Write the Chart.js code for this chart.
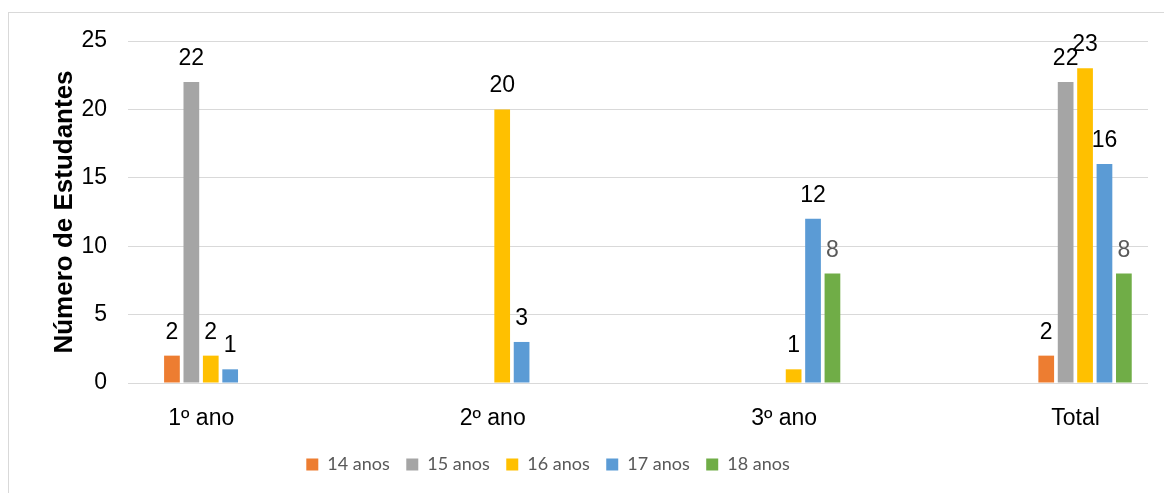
<!DOCTYPE html>
<html>
<head>
<meta charset="utf-8">
<script src="https://cdn.jsdelivr.net/npm/chart.js@4.4.0/dist/chart.umd.min.js"></script>
<style>
  html, body { margin: 0; padding: 0; background: #fff; overflow: hidden; }
  #wrap { position: relative; width: 1164px; height: 493px; }
  #frame { position: absolute; left: 8px; top: 12px; width: 1400px; height: 700px; border: 1px solid #d9d9d9; pointer-events: none; }
</style>
</head>
<body>
<div id="wrap">
  <canvas id="chart" width="1164" height="493"></canvas>
  <div id="frame"></div>
</div>
<script>
// data
const categories = ['1º ano', '2º ano', '3º ano', 'Total'];
const seriesNames = ['14 anos', '15 anos', '16 anos', '17 anos', '18 anos'];
const age14 = [2, null, null, 2];
const age15 = [22, null, null, 22];
const age16 = [2, 20, 1, 23];
const age17 = [1, 3, 12, 16];
const age18 = [null, null, 8, 8];
const yTicks = [0, 5, 10, 15, 20, 25];

const seriesValues = [age14, age15, age16, age17, age18];
const seriesColors = ['#ED7D31', '#A5A5A5', '#FFC000', '#5B9BD5', '#70AD47'];
const labelColors = ['#000000', '#000000', '#000000', '#000000', '#595959'];

const ARIAL = '"Liberation Sans", Arial, sans-serif';
const LEGEND_CENTER = 548;

// value labels above each bar
const valueLabels = {
    id: 'valueLabels',
    afterDatasetsDraw(chart) {
        const ctx = chart.ctx;
        ctx.save();
        ctx.font = '23px ' + ARIAL;
        ctx.textAlign = 'center';
        ctx.textBaseline = 'alphabetic';
        chart.data.datasets.forEach((ds, i) => {
            const meta = chart.getDatasetMeta(i);
            meta.data.forEach((bar, j) => {
                const v = ds.data[j].y;
                if (v === null) return;
                ctx.fillStyle = labelColors[i];
                ctx.fillText(String(v), bar.x, bar.y - 17);
            });
        });
        ctx.restore();
    }
};

// Excel puts the legend a bit left of the canvas centre
const legendPlace = {
    id: 'legendPlace',
    afterLayout(chart) {
        const lg = chart.legend;
        const half = (lg.right - lg.left) / 2;
        lg.left = LEGEND_CENTER - half;
        lg.right = LEGEND_CENTER + half;
    }
};

new Chart(document.getElementById('chart'), {
    type: 'bar',
    data: {
        datasets: seriesNames.map((name, i) => ({
            label: name,
            data: seriesValues[i].map((v, j) => ({ x: j, y: v })),
            backgroundColor: seriesColors[i],
            borderWidth: 0,
            categoryPercentage: 0.333,
            barPercentage: 0.81
        }))
    },
    options: {
        responsive: false,
        animation: false,
        layout: { padding: { left: 0, right: 16, top: 41, bottom: 9.5 } },
        plugins: {
            tooltip: { enabled: false },
            legend: {
                position: 'bottom',
                labels: {
                    boxWidth: 12,
                    boxHeight: 12,
                    padding: 16.5,
                    color: '#595959',
                    font: { family: 'Lato', size: 18 }
                }
            }
        },
        scales: {
            x: {
                type: 'linear',
                min: -0.284,
                max: 3.216,
                offset: false,
                grid: { display: false },
                border: { display: false },
                afterBuildTicks: axis => { axis.ticks = categories.map((c, i) => ({ value: i })); },
                afterFit: axis => { axis.height = 56; },
                ticks: {
                    autoSkip: false,
                    maxRotation: 0,
                    padding: 14,
                    labelOffset: -9.5,
                    color: '#000',
                    font: { family: ARIAL, size: 23 },
                    callback: v => categories[v]
                }
            },
            y: {
                min: 0,
                max: 25,
                afterBuildTicks: axis => { axis.ticks = yTicks.map(v => ({ value: v })); },
                afterFit: axis => { axis.width = 128; },
                grid: { color: '#d9d9d9', lineWidth: 1, drawTicks: false },
                border: { display: false },
                ticks: {
                    padding: 21,
                    color: '#000',
                    font: { family: ARIAL, size: 23 }
                },
                title: {
                    display: true,
                    text: 'Número de Estudantes',
                    color: '#000',
                    font: { family: ARIAL, size: 26, weight: 'bold' },
                    padding: { top: 49, bottom: 0 }
                }
            }
        }
    },
    plugins: [valueLabels, legendPlace]
});
</script>
</body>
</html>
